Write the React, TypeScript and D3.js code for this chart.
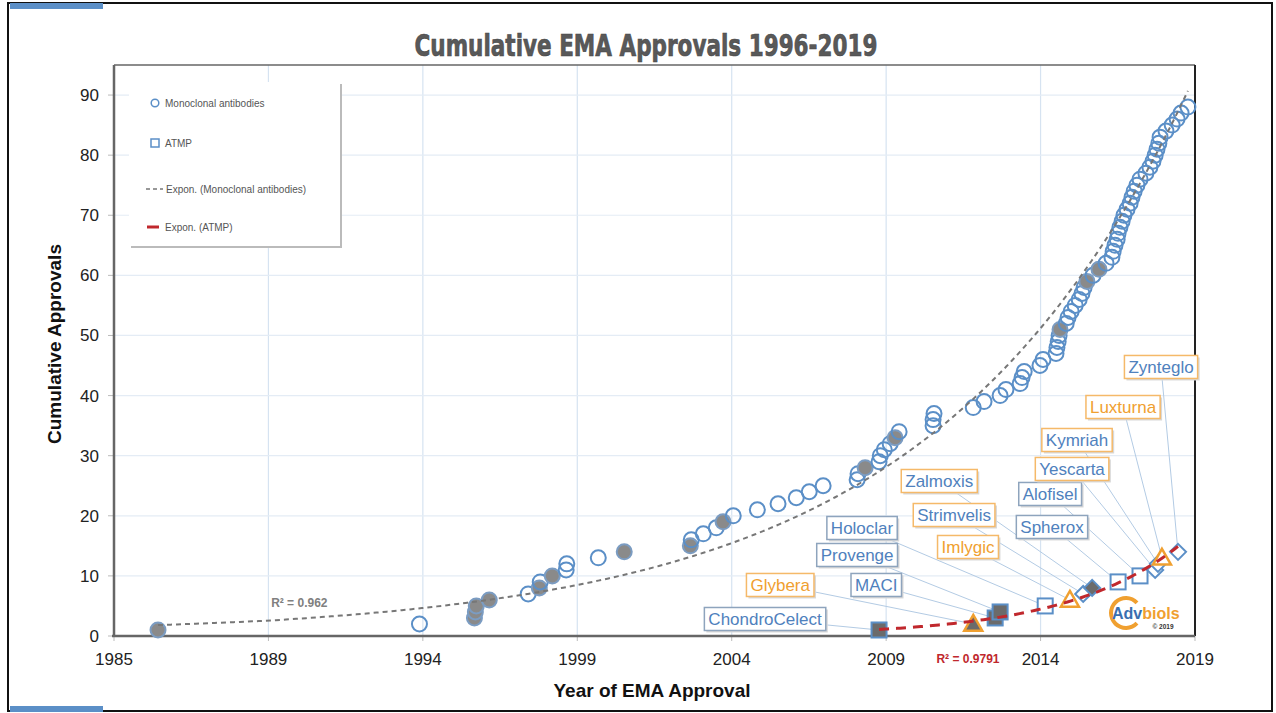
import React, { useEffect, useRef } from 'react';
import * as d3 from 'd3';

// ---------- axis ticks ----------
const xTickYears = [1985, 1989, 1994, 1999, 2004, 2009, 2014, 2019];
const yTicks = [0, 10, 20, 30, 40, 50, 60, 70, 80, 90];

// ---------- Monoclonal antibodies: approval date (decimal year) of the n-th approval ----------
const mabYears = [
  1986.14, 1993.89, 1995.67, 1995.70, 1995.73, 1996.15, 1997.41, 1997.77, 1997.80, 1998.19,
  1998.64, 1998.66, 1999.68, 2000.52, 2002.66, 2002.69, 2003.08, 2003.50, 2003.72, 2004.05,
  2004.83, 2005.50, 2006.09, 2006.51, 2006.96, 2008.06, 2008.09, 2008.32, 2008.77, 2008.81,
  2008.94, 2009.13, 2009.29, 2009.42, 2010.52, 2010.52, 2010.55, 2011.82, 2012.17, 2012.69,
  2012.88, 2013.34, 2013.40, 2013.47, 2013.98, 2014.08, 2014.50, 2014.53, 2014.57, 2014.60,
  2014.63, 2014.83, 2014.89, 2014.99, 2015.12, 2015.25, 2015.34, 2015.41, 2015.50, 2015.70,
  2015.89, 2016.12, 2016.31, 2016.35, 2016.41, 2016.48, 2016.51, 2016.57, 2016.64, 2016.70,
  2016.80, 2016.90, 2016.96, 2017.03, 2017.12, 2017.22, 2017.41, 2017.54, 2017.64, 2017.71,
  2017.77, 2017.83, 2017.87, 2018.06, 2018.26, 2018.42, 2018.55, 2018.77,
];
// cumulative ranks of withdrawn antibodies (filled grey)
const mabWithdrawn = [1, 3, 4, 5, 6, 8, 10, 14, 15, 19, 28, 33, 51, 59, 61];

// ---------- ATMP ----------
const atmpNames = ['ChondroCelect', 'Glybera', 'MACI', 'Provenge', 'Holoclar', 'Imlygic', 'Strimvelis',
  'Zalmoxis', 'Spherox', 'Alofisel', 'Yescarta', 'Kymriah', 'Luxturna', 'Zynteglo'];
const atmpYears = [2008.77, 2011.82, 2012.53, 2012.69, 2014.15, 2014.95, 2015.38,
  2015.67, 2016.51, 2017.22, 2017.71, 2017.80, 2017.93, 2018.45];
const atmpType = ['cell', 'gene', 'cell', 'cell', 'cell', 'gene', 'gmcell',
  'gmcell', 'cell', 'cell', 'gmcell', 'gmcell', 'gene', 'gmcell'];
const atmpWithdrawn = [true, true, true, true, false, false, false, true, false, false, false, false, false, false];
// label anchor positions, in data coordinates (year, approvals)
const atmpLabelYear = [2005.08, 2005.57, 2008.68, 2008.06, 2008.22, 2011.65, 2011.20,
  2010.72, 2014.37, 2014.31, 2015.02, 2015.18, 2016.67, 2017.90];
const atmpLabelValue = [2.83, 8.49, 8.49, 13.48, 17.97, 14.81, 20.13,
  25.79, 18.14, 23.63, 27.79, 32.61, 38.10, 44.76];

const mabR2 = 'R² = 0.962';
const atmpR2 = 'R² = 0.9791';

const SANS = "'Liberation Sans', Arial, Helvetica, sans-serif";
const BLUE = '#5b8fc7';
const BLUE_TXT = '#4f81bd';
const ORANGE = '#f0a030';
const GREY_FILL = '#8a8a8a';
const DARK_FILL = '#6b6b6b';
const RED = '#c0282d';

function expFit(xs: number[], ns: number[]) {
  const ly = ns.map((v) => Math.log(v));
  const mx = d3.mean(xs) as number;
  const my = d3.mean(ly) as number;
  let sxy = 0, sxx = 0;
  xs.forEach((xv, i) => { sxy += (xv - mx) * (ly[i] - my); sxx += (xv - mx) * (xv - mx); });
  const b = sxy / sxx;
  const a = my - b * mx;
  return (t: number) => Math.exp(a + b * t);
}

export default function App() {
  const ref = useRef<SVGSVGElement>(null);

  useEffect(() => {
    const W = 1276, H = 713;
    const L = 114, R = 1195, T = 65, B = 636;
    const svg = d3.select(ref.current as SVGSVGElement);
    svg.selectAll('*').remove();

    const step = (R - L) / (xTickYears.length - 1);
    const x = d3.scaleLinear().domain(xTickYears).range(xTickYears.map((_, i) => L + i * step));
    const y = d3.scaleLinear().domain([0, 95]).range([B, T]);

    // frame
    svg.append('rect').attr('x', 0).attr('y', 0).attr('width', W).attr('height', H).attr('fill', '#fff');
    svg.append('rect').attr('x', 8).attr('y', 3).attr('width', 1264).attr('height', 708)
      .attr('fill', '#fff').attr('stroke', '#111').attr('stroke-width', 2);
    svg.append('rect').attr('x', 10).attr('y', 3).attr('width', 93).attr('height', 6).attr('fill', BLUE);
    svg.append('rect').attr('x', 10).attr('y', 706).attr('width', 93).attr('height', 6).attr('fill', BLUE);

    // title
    svg.append('text').attr('x', 646).attr('y', 56).attr('text-anchor', 'middle')
      .attr('font-family', "'Liberation Sans Narrow', 'DejaVu Sans Condensed', " + SANS)
      .attr('font-weight', 'bold').attr('font-size', 30).attr('fill', '#595959')
      .attr('textLength', 463).attr('lengthAdjust', 'spacingAndGlyphs')
      .attr('stroke', '#444').attr('stroke-width', 0.6)
      .text('Cumulative EMA Approvals 1996-2019');

    // grid
    const g = svg.append('g');
    g.selectAll('line.vg').data(xTickYears.slice(1, -1)).enter().append('line')
      .attr('x1', (d) => x(d)).attr('x2', (d) => x(d)).attr('y1', T).attr('y2', B)
      .attr('stroke', '#d6e3f1').attr('stroke-width', 1.2);
    g.selectAll('line.hg').data(yTicks.slice(1)).enter().append('line')
      .attr('x1', L).attr('x2', R).attr('y1', (d) => y(d)).attr('y2', (d) => y(d))
      .attr('stroke', '#e4ecf5').attr('stroke-width', 1.2);

    // ticks
    g.selectAll('line.yt').data(yTicks).enter().append('line')
      .attr('x1', L - 6).attr('x2', L).attr('y1', (d) => y(d)).attr('y2', (d) => y(d))
      .attr('stroke', '#bbb').attr('stroke-width', 1);
    g.selectAll('line.xt').data(xTickYears).enter().append('line')
      .attr('x1', (d) => x(d)).attr('x2', (d) => x(d)).attr('y1', B).attr('y2', B + 5)
      .attr('stroke', '#bbb').attr('stroke-width', 1);

    // borders
    svg.append('line').attr('x1', L).attr('x2', R).attr('y1', T).attr('y2', T).attr('stroke', '#666').attr('stroke-width', 1.5);
    svg.append('line').attr('x1', R).attr('x2', R).attr('y1', T).attr('y2', B).attr('stroke', '#222').attr('stroke-width', 2);
    svg.append('line').attr('x1', L).attr('x2', L).attr('y1', T).attr('y2', B + 1).attr('stroke', '#666').attr('stroke-width', 2.5);
    svg.append('line').attr('x1', L - 2).attr('x2', R).attr('y1', B).attr('y2', B).attr('stroke', '#666').attr('stroke-width', 2.5);

    // tick labels
    svg.selectAll('text.yl').data(yTicks).enter().append('text')
      .attr('x', L - 15).attr('y', (d) => y(d) + 6).attr('text-anchor', 'end')
      .attr('font-family', SANS).attr('font-size', 17).attr('fill', '#222').text((d) => String(d));
    svg.selectAll('text.xl').data(xTickYears).enter().append('text')
      .attr('x', (d) => x(d)).attr('y', 665).attr('text-anchor', 'middle')
      .attr('font-family', SANS).attr('font-size', 17).attr('fill', '#222').text((d) => String(d));

    // axis titles
    svg.append('text').attr('transform', 'translate(61,344) rotate(-90)').attr('text-anchor', 'middle')
      .attr('font-family', SANS).attr('font-weight', 'bold').attr('font-size', 19).attr('fill', '#111')
      .text('Cumulative Approvals');
    svg.append('text').attr('x', 652).attr('y', 697).attr('text-anchor', 'middle')
      .attr('font-family', SANS).attr('font-weight', 'bold').attr('font-size', 19).attr('fill', '#111')
      .text('Year of EMA Approval');

    // legend
    const lg = svg.append('g');
    lg.append('rect').attr('x', 131).attr('y', 84).attr('width', 211).attr('height', 164).attr('fill', '#bbb');
    lg.append('rect').attr('x', 129).attr('y', 82).attr('width', 211).attr('height', 164).attr('fill', '#fff');
    lg.append('circle').attr('cx', 155).attr('cy', 103).attr('r', 3.8).attr('fill', 'none').attr('stroke', BLUE).attr('stroke-width', 1.5);
    lg.append('rect').attr('x', 151).attr('y', 139).attr('width', 8).attr('height', 8).attr('fill', 'none').attr('stroke', BLUE).attr('stroke-width', 1.5);
    lg.append('line').attr('x1', 146).attr('x2', 163).attr('y1', 189).attr('y2', 189).attr('stroke', '#777').attr('stroke-width', 1.5).attr('stroke-dasharray', '4,3');
    lg.append('line').attr('x1', 147).attr('x2', 159).attr('y1', 227).attr('y2', 227).attr('stroke', RED).attr('stroke-width', 3);
    const legTexts = ['Monoclonal antibodies', 'ATMP', 'Expon. (Monoclonal antibodies)', 'Expon. (ATMP)'];
    const legY = [103, 143, 189, 227];
    lg.selectAll('text').data(legTexts).enter().append('text')
      .attr('x', (_, i) => (i === 2 ? 166 : 165)).attr('y', (_, i) => legY[i] + 3.5)
      .attr('font-family', SANS).attr('font-size', 10).attr('fill', '#555').text((d) => d);

    // ATMP leader lines
    const lab = atmpNames.map((n, i) => ({
      name: n, type: atmpType[i], w: atmpWithdrawn[i],
      lx: x(atmpLabelYear[i]), ly: y(atmpLabelValue[i]),
      px: x(atmpYears[i]), py: y(i + 1),
    }));
    svg.append('g').selectAll('line').data(lab).enter().append('line')
      .attr('x1', (d) => d.lx).attr('y1', (d) => d.ly).attr('x2', (d) => d.px).attr('y2', (d) => d.py)
      .attr('stroke', '#b3cbe4').attr('stroke-width', 1);

    // label boxes
    const lbG = svg.append('g');
    lab.forEach((d) => {
      const gg = lbG.append('g');
      const txt = gg.append('text').attr('x', d.lx).attr('y', d.ly + 6).attr('text-anchor', 'middle')
        .attr('font-family', SANS).attr('font-size', 17)
        .attr('fill', d.type === 'gene' ? ORANGE : BLUE_TXT).text(d.name);
      const tw = (txt.node() as SVGTextElement).getComputedTextLength();
      const bw = tw + 8, bh = 23;
      const border = d.type === 'cell' ? '#8ea4bd' : '#f5b969';
      gg.insert('rect', 'text').attr('x', d.lx - bw / 2 + 2).attr('y', d.ly - bh / 2 + 2).attr('width', bw).attr('height', bh)
        .attr('fill', '#d8d8d8');
      gg.insert('rect', 'text').attr('x', d.lx - bw / 2).attr('y', d.ly - bh / 2).attr('width', bw).attr('height', bh)
        .attr('fill', '#fff').attr('stroke', border).attr('stroke-width', 1.5);
    });

    // mAb points
    const mab = mabYears.map((yr, i) => ({ yr, n: i + 1, w: mabWithdrawn.includes(i + 1) }));
    svg.append('g').selectAll('circle').data(mab).enter().append('circle')
      .attr('cx', (d) => x(d.yr)).attr('cy', (d) => y(d.n)).attr('r', 7.5)
      .attr('fill', (d) => (d.w ? GREY_FILL : 'none'))
      .attr('stroke', (d) => (d.w ? '#7b9cc2' : BLUE)).attr('stroke-width', 2);

    // ATMP points
    const ag = svg.append('g');
    lab.forEach((d) => {
      const fill = d.w ? DARK_FILL : '#fff';
      if (d.type === 'cell') {
        ag.append('rect').attr('x', d.px - 7.5).attr('y', d.py - 7.5).attr('width', 15).attr('height', 15)
          .attr('fill', fill).attr('stroke', BLUE).attr('stroke-width', 2);
      } else if (d.type === 'gene') {
        const s = 9;
        ag.append('path').attr('d', `M${d.px},${d.py - s}L${d.px + s},${d.py + s * 0.75}L${d.px - s},${d.py + s * 0.75}Z`)
          .attr('fill', fill).attr('stroke', ORANGE).attr('stroke-width', 2.5);
      } else {
        const s = 8;
        ag.append('path').attr('d', `M${d.px},${d.py - s}L${d.px + s},${d.py}L${d.px},${d.py + s}L${d.px - s},${d.py}Z`)
          .attr('fill', fill).attr('stroke', BLUE).attr('stroke-width', 2);
      }
    });

    // trend lines
    const line = d3.line<number[]>().x((p) => x(p[0])).y((p) => y(p[1]));
    const mabF = expFit(mab.map((d) => d.yr), mab.map((d) => d.n));
    const [m0, m1] = d3.extent(mabYears) as [number, number];
    const mabCurve = d3.range(0, 201).map((k) => { const t = m0 + (m1 - m0) * k / 200; return [t, mabF(t)]; });
    svg.append('path').attr('d', line(mabCurve) as string).attr('fill', 'none')
      .attr('stroke', '#777').attr('stroke-width', 2).attr('stroke-dasharray', '5,4');

    const atF = expFit(atmpYears, atmpYears.map((_, i) => i + 1));
    const [a0, a1] = d3.extent(atmpYears) as [number, number];
    const atCurve = d3.range(0, 101).map((k) => { const t = a0 + (a1 - a0) * k / 100; return [t, atF(t)]; });
    svg.append('path').attr('d', line(atCurve) as string).attr('fill', 'none')
      .attr('stroke', RED).attr('stroke-width', 3).attr('stroke-dasharray', '10,7');

    // R² labels
    svg.append('text').attr('x', x(1990)).attr('y', y(5.5) + 4).attr('text-anchor', 'middle')
      .attr('font-family', SANS).attr('font-weight', 'bold').attr('font-size', 12).attr('fill', '#808080').text(mabR2);
    svg.append('text').attr('x', x(2011.65)).attr('y', 663).attr('text-anchor', 'middle')
      .attr('font-family', SANS).attr('font-weight', 'bold').attr('font-size', 12).attr('fill', RED).text(atmpR2);

    // logo
    const lgo = svg.append('g').attr('transform', 'translate(1126,613)');
    const arc = d3.arc()({ innerRadius: 13, outerRadius: 17, startAngle: Math.PI / 2 + 0.75, endAngle: Math.PI / 2 - 0.75 + 2 * Math.PI } as any);
    lgo.append('path').attr('d', arc as string).attr('fill', ORANGE);
    const lt = lgo.append('text').attr('x', -14).attr('y', 6).attr('font-family', SANS).attr('font-weight', 'bold').attr('font-size', 16);
    lt.append('tspan').attr('fill', '#3a6fb0').text('Adv');
    lt.append('tspan').attr('fill', ORANGE).text('biols');
    lgo.append('text').attr('x', 37).attr('y', 16).attr('text-anchor', 'middle').attr('font-family', SANS)
      .attr('font-weight', 'bold').attr('font-size', 6.5).attr('fill', '#333').text('© 2019');
  }, []);

  return (
    <svg ref={ref} width={1276} height={713} style={{ position: 'absolute', left: 0, top: 0, background: '#fff' }} />
  );
}
